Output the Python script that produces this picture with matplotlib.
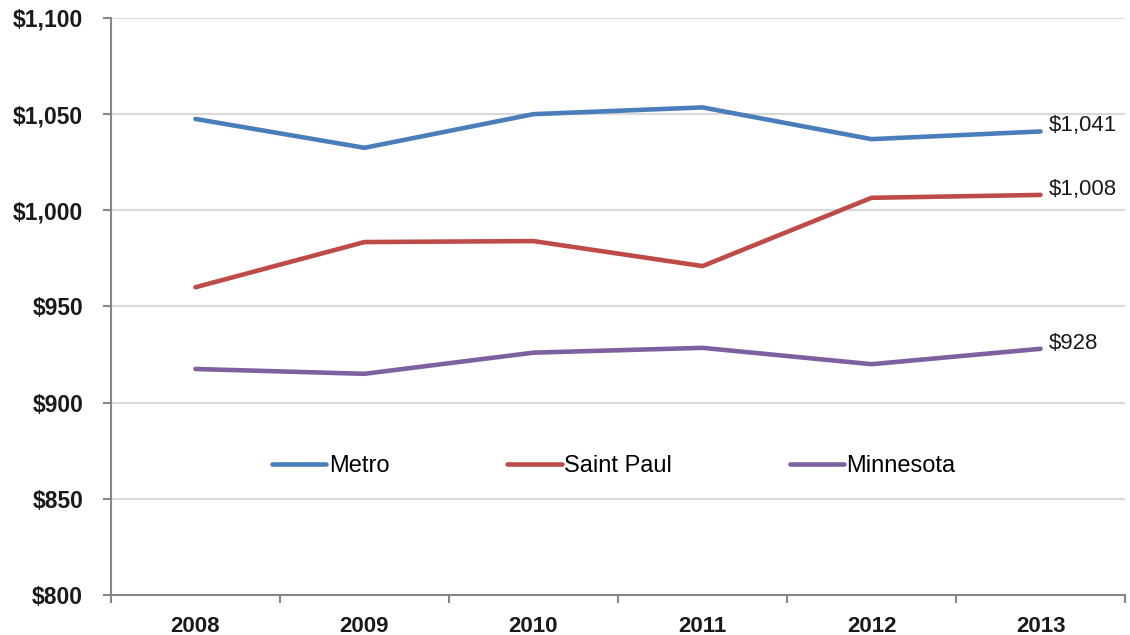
import numpy as np
import matplotlib.pyplot as plt
from matplotlib.ticker import FixedLocator, FuncFormatter

# Dane
years = ['2008', '2009', '2010', '2011', '2012', '2013']
metro = [1047.5, 1032.5, 1050, 1053.5, 1037, 1041]
saint_paul = [960, 983.5, 984, 971, 1006.5, 1008]
minnesota = [917.5, 915, 926, 928.5, 920, 928]
end_labels = ['$1,041', '$1,008', '$928']

colors = ['#4A7EBB', '#BE4B48', '#7D60A0']
names = ['Metro', 'Saint Paul', 'Minnesota']

plt.rcParams['font.family'] = ['Liberation Sans', 'DejaVu Sans']

fig = plt.figure(figsize=(11.3, 6.35), dpi=100)
ax = fig.add_axes([0.0982, 0.063, 0.8974, 0.9087])

x = np.arange(len(years))
for serie, kolor, nazwa, etykieta in zip([metro, saint_paul, minnesota], colors, names, end_labels):
    ax.plot(x, serie, color=kolor, linewidth=3.3, label=nazwa, solid_capstyle='round')
    ax.annotate(etykieta, (x[-1], serie[-1]), xytext=(6, 4), textcoords='offset points',
                fontsize=16, va='center', ha='left', color='#1a1a1a')

ax.set_xlim(-0.5, len(years) - 0.5)
ax.set_ylim(800, 1100)
ax.set_yticks(np.arange(800, 1101, 50))
ax.yaxis.set_major_formatter(FuncFormatter(lambda v, p: f'${v:,.0f}'))
ax.set_xticks(x)
ax.set_xticklabels(years)
ax.xaxis.set_minor_locator(FixedLocator(np.arange(-0.5, len(years), 1.0)))
ax.tick_params(axis='x', which='major', length=0, pad=15, labelsize=16)
ax.tick_params(axis='x', which='minor', length=6, width=1.5, color='#868686')
ax.tick_params(axis='y', length=6, width=1.5, color='#868686', labelsize=16.5, pad=14)
for lab in ax.get_xticklabels() + ax.get_yticklabels():
    lab.set_fontweight('bold')
    lab.set_color('#1a1a1a')

ax.grid(axis='y', color='#D9D9D9', linewidth=1.5)
ax.set_axisbelow(True)
for s in ['top', 'right']:
    ax.spines[s].set_visible(False)
for s in ['left', 'bottom']:
    ax.spines[s].set_color('#868686')
    ax.spines[s].set_linewidth(1.5)

ax.legend(loc='center', bbox_to_anchor=(0.496, 0.2236), ncol=3, frameon=False,
          fontsize=17, handlelength=2.3, handletextpad=0.1, columnspacing=5.0)

fig.savefig('out.png', dpi=100)
